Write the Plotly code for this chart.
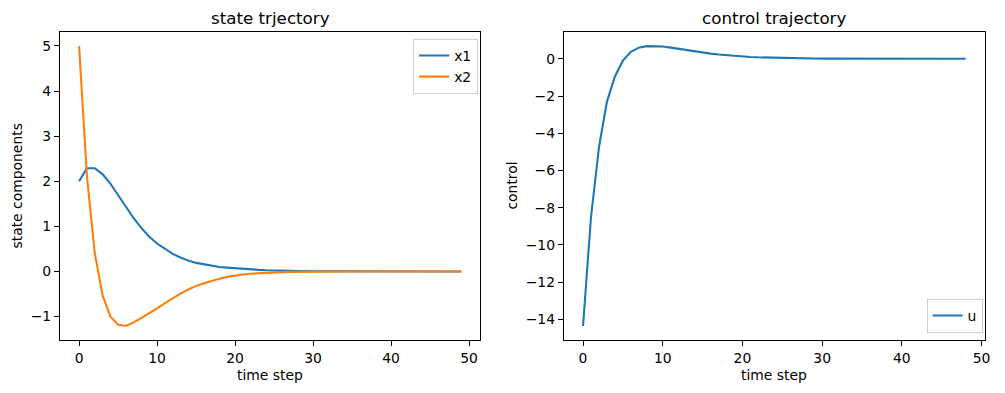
import plotly.graph_objects as go

# ---- data ----
steps_x = list(range(50))
x1 = [2.0, 2.29, 2.29, 2.16, 1.95, 1.70, 1.43, 1.18, 0.96, 0.77,
      0.62, 0.50, 0.39, 0.31, 0.24, 0.19, 0.155, 0.125, 0.10, 0.085,
      0.07, 0.056, 0.045, 0.036, 0.028, 0.022, 0.017, 0.013, 0.010, 0.008,
      0.006, 0.005, 0.004, 0.003, 0.002, 0.002, 0.001, 0.001, 0.001, 0.0,
      0.0, 0.0, 0.0, 0.0, 0.0, 0.0, 0.0, 0.0, 0.0, 0.0]
x2 = [5.0, 2.12, 0.42, -0.52, -1.0, -1.18, -1.21, -1.13, -1.03, -0.93,
      -0.82, -0.70, -0.59, -0.49, -0.40, -0.32, -0.26, -0.205, -0.16, -0.12,
      -0.09, -0.068, -0.05, -0.037, -0.027, -0.02, -0.014, -0.010, -0.007, -0.005,
      -0.004, -0.003, -0.002, -0.001, -0.001, -0.001, 0.0, 0.0, 0.0, 0.0,
      0.0, 0.0, 0.0, 0.0, 0.0, 0.0, 0.0, 0.0, 0.0, 0.0]
steps_u = list(range(49))
u = [-14.36, -8.5, -4.75, -2.3, -0.95, -0.1, 0.38, 0.6, 0.68, 0.69,
     0.66, 0.60, 0.53, 0.46, 0.39, 0.33, 0.28, 0.23, 0.19, 0.155,
     0.125, 0.10, 0.08, 0.065, 0.05, 0.04, 0.032, 0.025, 0.02, 0.015,
     0.012, 0.009, 0.007, 0.005, 0.004, 0.003, 0.002, 0.002, 0.001, 0.001,
     0.001, 0.0, 0.0, 0.0, 0.0, 0.0, 0.0, 0.0, 0.0]
x_ticks = [0, 10, 20, 30, 40, 50]
left_yticks = [-1, 0, 1, 2, 3, 4, 5]
right_yticks = [-14, -12, -10, -8, -6, -4, -2, 0]

BLUE = "#1f77b4"
ORANGE = "#ff7f0e"
FONT = "DejaVu Sans"

# page body margin (8px on every side) offsets the figure; compensate and avoid overflow
OFF = 8
W, H = 1005 - 2 * OFF, 393 - 2 * OFF

def px(v):
    return v - OFF

L1, R1 = px(60.3), px(483.3)
L2, R2 = px(567.3), px(990.7)
TOP, BOT = px(32.3), px(340.5)
mt = TOP
mb = H - BOT
ph = H - mt - mb

fig = go.Figure()
fig.add_trace(go.Scatter(x=steps_x, y=x1, mode="lines", name="x1",
                         line=dict(color=BLUE, width=2.1), xaxis="x", yaxis="y", legend="legend"))
fig.add_trace(go.Scatter(x=steps_x, y=x2, mode="lines", name="x2",
                         line=dict(color=ORANGE, width=2.1), xaxis="x", yaxis="y", legend="legend"))
fig.add_trace(go.Scatter(x=steps_u, y=u, mode="lines", name="u",
                         line=dict(color=BLUE, width=2.1), xaxis="x2", yaxis="y2", legend="legend2"))

axis_common = dict(showgrid=False, zeroline=False, showline=True, linecolor="black",
                   linewidth=1.1, mirror=True, ticks="outside", ticklen=5, tickwidth=1.1,
                   tickcolor="black", tickfont=dict(family=FONT, size=13.9, color="black"))

def paper_y(py):
    return (H - mb - px(py)) / ph

fig.update_layout(
    width=W, height=H,
    margin=dict(l=0, r=0, t=mt, b=mb, pad=0),
    plot_bgcolor="white", paper_bgcolor="white",
    font=dict(family=FONT, size=13.9, color="black"),
    xaxis=dict(domain=[L1 / W, R1 / W], range=[-2.45, 51.45], tickvals=x_ticks, anchor="y", **axis_common),
    yaxis=dict(range=[-1.52, 5.31], tickvals=left_yticks, anchor="x", **axis_common),
    xaxis2=dict(domain=[L2 / W, R2 / W], range=[-2.4, 50.4], tickvals=x_ticks, anchor="y2", **axis_common),
    yaxis2=dict(range=[-15.11, 1.44], tickvals=right_yticks, anchor="x2", **axis_common),
    legend=dict(x=px(481) / W, y=paper_y(39.3), xanchor="right", yanchor="top",
                bgcolor="rgba(255,255,255,0.8)", bordercolor="#d0d0d0", borderwidth=1,
                font=dict(family=FONT, size=13.9), tracegroupgap=0),
    legend2=dict(x=px(988.5) / W, y=paper_y(333.5), xanchor="right", yanchor="bottom",
                 bgcolor="rgba(255,255,255,0.8)", bordercolor="#d0d0d0", borderwidth=1,
                 font=dict(family=FONT, size=13.9)),
    showlegend=True,
)

annotations = [
    dict(text="state trjectory", x=(L1 + R1) / 2 / W, y=paper_y(18), xref="paper", yref="paper",
         showarrow=False, font=dict(family=FONT, size=16.7), xanchor="center", yanchor="middle"),
    dict(text="control trajectory", x=(L2 + R2) / 2 / W, y=paper_y(18), xref="paper", yref="paper",
         showarrow=False, font=dict(family=FONT, size=16.7), xanchor="center", yanchor="middle"),
    dict(text="time step", x=(L1 + R1) / 2 / W, y=paper_y(376), xref="paper", yref="paper",
         showarrow=False, font=dict(family=FONT, size=13.9), xanchor="center", yanchor="middle"),
    dict(text="time step", x=(L2 + R2) / 2 / W, y=paper_y(376), xref="paper", yref="paper",
         showarrow=False, font=dict(family=FONT, size=13.9), xanchor="center", yanchor="middle"),
    dict(text="state components", x=px(17) / W, y=paper_y(186), xref="paper", yref="paper", textangle=-90,
         showarrow=False, font=dict(family=FONT, size=13.9), xanchor="center", yanchor="middle"),
    dict(text="control", x=px(515) / W, y=paper_y(186), xref="paper", yref="paper", textangle=-90,
         showarrow=False, font=dict(family=FONT, size=13.9), xanchor="center", yanchor="middle"),
]
fig.update_layout(annotations=annotations)

fig.write_html("out.html")
